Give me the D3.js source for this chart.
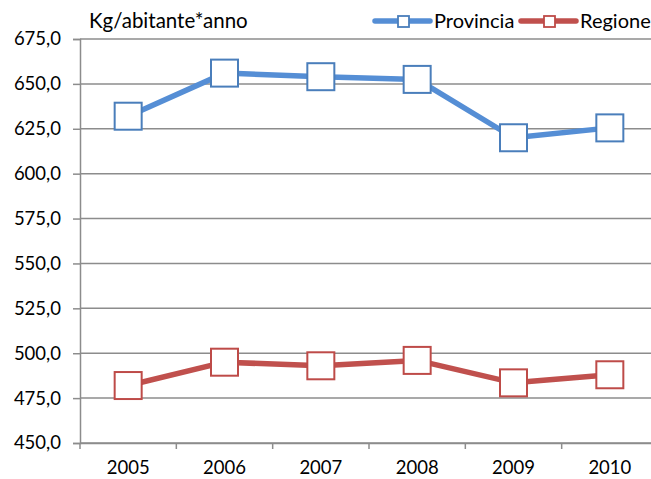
<!DOCTYPE html>
<html>
<head>
<meta charset="utf-8">
<script src="https://cdn.jsdelivr.net/npm/d3@7"></script>
<style>
  body { margin: 0; background: #fff; }
  svg text { font-family: Lato, "Open Sans", sans-serif; fill: #000; }
</style>
</head>
<body>
<div id="chart"></div>
<script>
var years = ["2005", "2006", "2007", "2008", "2009", "2010"];
var provincia = [632, 656, 654, 652.5, 620, 625.5];
var regione = [482, 495, 493, 496, 483.5, 488];
var yTicks = [450, 475, 500, 525, 550, 575, 600, 625, 650, 675];

var W = 651, H = 479;
var mLeft = 80, mRight = 658, mTop = 39, mBottom = 443;

var svg = d3.select("#chart").append("svg")
    .attr("width", W).attr("height", H);

var x = d3.scaleBand().domain(years).range([mLeft, mRight]);
var y = d3.scaleLinear().domain([450, 675]).range([mBottom, mTop]);

// griglia orizzontale
svg.append("g").selectAll("line").data(yTicks).enter().append("line")
    .attr("x1", mLeft).attr("x2", mRight)
    .attr("y1", function (d) { return y(d); })
    .attr("y2", function (d) { return y(d); })
    .attr("stroke", "#8c8c8c").attr("stroke-width", 1.5);

// asse y
var yAxis = svg.append("g").attr("transform", "translate(" + mLeft + ",0)")
    .call(d3.axisLeft(y).tickValues(yTicks).tickSize(7).tickPadding(12)
        .tickFormat(function (d) { return d3.format(".1f")(d).replace(".", ","); }));
yAxis.select(".domain").attr("stroke", "#8c8c8c").attr("stroke-width", 1.5);
yAxis.selectAll(".tick line").attr("stroke", "#8c8c8c").attr("stroke-width", 1.5);
yAxis.selectAll("text").attr("font-size", 18.5).attr("font-family", "Lato, sans-serif");

// asse x
var xAxis = svg.append("g").attr("transform", "translate(0," + mBottom + ")")
    .call(d3.axisBottom(x).tickSize(0).tickPadding(18));
xAxis.select(".domain").attr("stroke", "#8c8c8c").attr("stroke-width", 1.5);
xAxis.selectAll("text").attr("font-size", 18.5).attr("font-family", "Lato, sans-serif");
// tacche tra le categorie
svg.append("g").selectAll("line").data(years).enter().append("line")
    .attr("x1", function (d) { return x(d); })
    .attr("x2", function (d) { return x(d); })
    .attr("y1", mBottom).attr("y2", mBottom + 6)
    .attr("stroke", "#8c8c8c").attr("stroke-width", 1.5);

var series = [
    { name: "Provincia", values: provincia, color: "#558ed5", edge: "#4a7ebb" },
    { name: "Regione", values: regione, color: "#c0504d", edge: "#be4b48" }
];

var line = d3.line()
    .x(function (d, i) { return x(years[i]) + x.bandwidth() / 2; })
    .y(function (d) { return y(d); });

var ms = 27;
series.forEach(function (s) {
    svg.append("path").datum(s.values)
        .attr("d", line)
        .attr("fill", "none")
        .attr("stroke", s.color)
        .attr("stroke-width", 5.5)
        .attr("stroke-linejoin", "round");
    svg.append("g").selectAll("rect").data(s.values).enter().append("rect")
        .attr("x", function (d, i) { return x(years[i]) + x.bandwidth() / 2 - ms / 2; })
        .attr("y", function (d) { return y(d) - ms / 2; })
        .attr("width", ms).attr("height", ms)
        .attr("fill", "#fff")
        .attr("stroke", s.edge)
        .attr("stroke-width", 2);
});

// titolo unità
svg.append("text").attr("x", 89).attr("y", 28)
    .attr("font-size", 20.5).text("Kg/abitante*anno");

// legenda
var legX = [375, 521];
series.forEach(function (s, i) {
    var g = svg.append("g").attr("transform", "translate(" + legX[i] + ",21)");
    g.append("line").attr("x1", 0).attr("x2", 55).attr("y1", 0).attr("y2", 0)
        .attr("stroke", s.color).attr("stroke-width", 5.5)
        .attr("stroke-linecap", "round");
    g.append("rect").attr("x", 23).attr("y", -5).attr("width", 11).attr("height", 11)
        .attr("fill", "#fff").attr("stroke", s.edge).attr("stroke-width", 1.8);
    g.append("text").attr("x", 59).attr("y", 7).attr("font-size", 20).text(s.name);
});
</script>
</body>
</html>
